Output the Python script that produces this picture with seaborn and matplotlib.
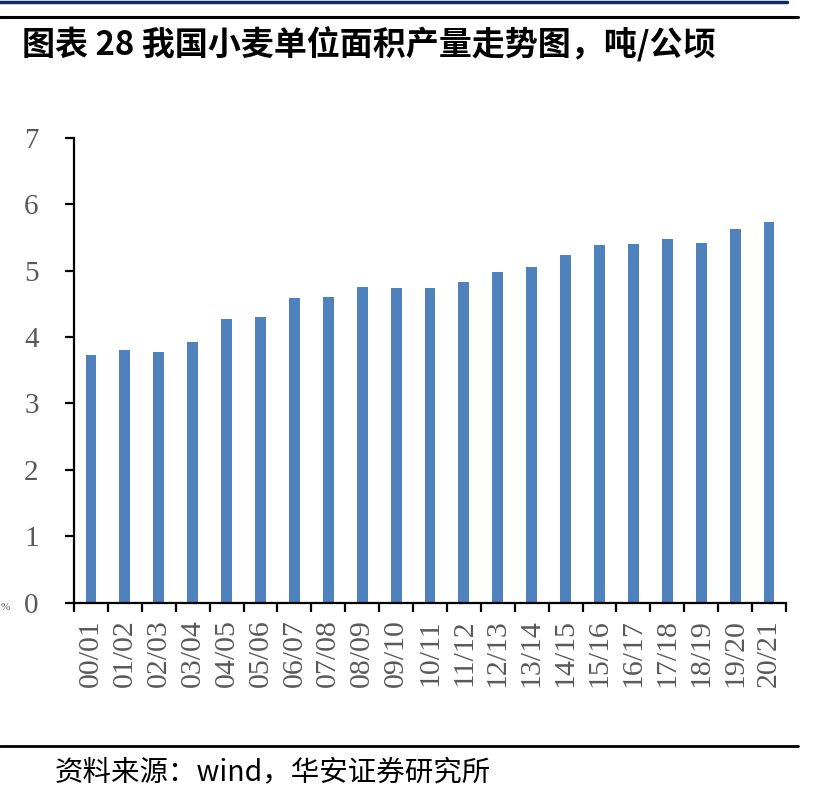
import matplotlib
matplotlib.use("Agg")
import matplotlib.pyplot as plt
import seaborn as sns
import pandas as pd
from matplotlib.lines import Line2D
from matplotlib.ticker import FixedLocator

seasons = ["00/01", "01/02", "02/03", "03/04", "04/05", "05/06", "06/07",
           "07/08", "08/09", "09/10", "10/11", "11/12", "12/13", "13/14",
           "14/15", "15/16", "16/17", "17/18", "18/19", "19/20", "20/21"]
yields = [3.73, 3.81, 3.78, 3.93, 4.28, 4.31, 4.59, 4.61, 4.76, 4.74, 4.74,
          4.83, 4.98, 5.06, 5.24, 5.39, 5.40, 5.48, 5.42, 5.63, 5.74]
y_ticks = [0, 1, 2, 3, 4, 5, 6, 7]

title_text = "图表 28 我国小麦单位面积产量走势图，吨/公顷"
source_text = "资料来源：wind，华安证券研究所"

sns.set_theme(style="white")
plt.rcParams["font.family"] = ["Noto Sans CJK SC", "DejaVu Sans"]

df = pd.DataFrame({"season": seasons, "yield": yields})

W, H = 820, 799
fig = plt.figure(figsize=(W / 100, H / 100), dpi=100)
ax = fig.add_axes([74 / W, 1 - 602.6 / H, (786 - 74) / W, (602.6 - 138) / H])

sns.barplot(data=df, x="season", y="yield", color="#4F81BD", saturation=1,
            width=0.32, ax=ax, edgecolor="none")

ax.set_xlim(-0.5, len(seasons) - 0.5)
ax.set_ylim(0, 7)
ax.set_yticks(y_ticks)
ax.set_yticklabels([str(t) for t in y_ticks])
ax.set_xlabel("")
ax.set_ylabel("")

for side in ["top", "right"]:
    ax.spines[side].set_visible(False)
for side in ["left", "bottom"]:
    ax.spines[side].set_color("black")
    ax.spines[side].set_linewidth(1.6)

serif = ["Liberation Serif", "DejaVu Serif"]
ax.tick_params(axis="y", which="major", direction="out", length=6.5, width=1.6,
               color="black", pad=19, left=True, labelsize=21,
               labelcolor="#595959")
for lab in ax.get_yticklabels():
    lab.set_fontfamily(serif)

ax.xaxis.set_minor_locator(FixedLocator([i - 0.5 for i in range(len(seasons) + 1)]))
ax.tick_params(axis="x", which="minor", direction="out", length=6.5, width=1.6,
               color="black", bottom=True)
ax.tick_params(axis="x", which="major", length=0, pad=12, labelsize=21.5,
               labelcolor="#595959")
for lab in ax.get_xticklabels():
    lab.set_rotation(90)
    lab.set_fontfamily(serif)

# header / footer decorations
fig.add_artist(Line2D([0, 787 / W], [1 - 1.5 / H, 1 - 1.5 / H],
                      color="#0F2A5E", linewidth=2.5, transform=fig.transFigure))
fig.add_artist(Line2D([0, 798 / W], [1 - 16.5 / H, 1 - 16.5 / H],
                      color="black", linewidth=2.2, transform=fig.transFigure))
fig.add_artist(Line2D([0, 798 / W], [1 - 746 / H, 1 - 746 / H],
                      color="black", linewidth=2.0, transform=fig.transFigure))

fig.text(22 / W, 1 - 45 / H, title_text, fontsize=23.8, fontweight="bold",
         color="black", ha="left", va="center")
fig.text(55 / W, 1 - 773 / H, source_text, fontsize=20.5, color="black",
         ha="left", va="center")
fig.text(0.5 / W, 1 - 607 / H, "%", fontsize=8, color="#595959",
         ha="left", va="center", family=serif)

fig.savefig("out.png", dpi=100)
